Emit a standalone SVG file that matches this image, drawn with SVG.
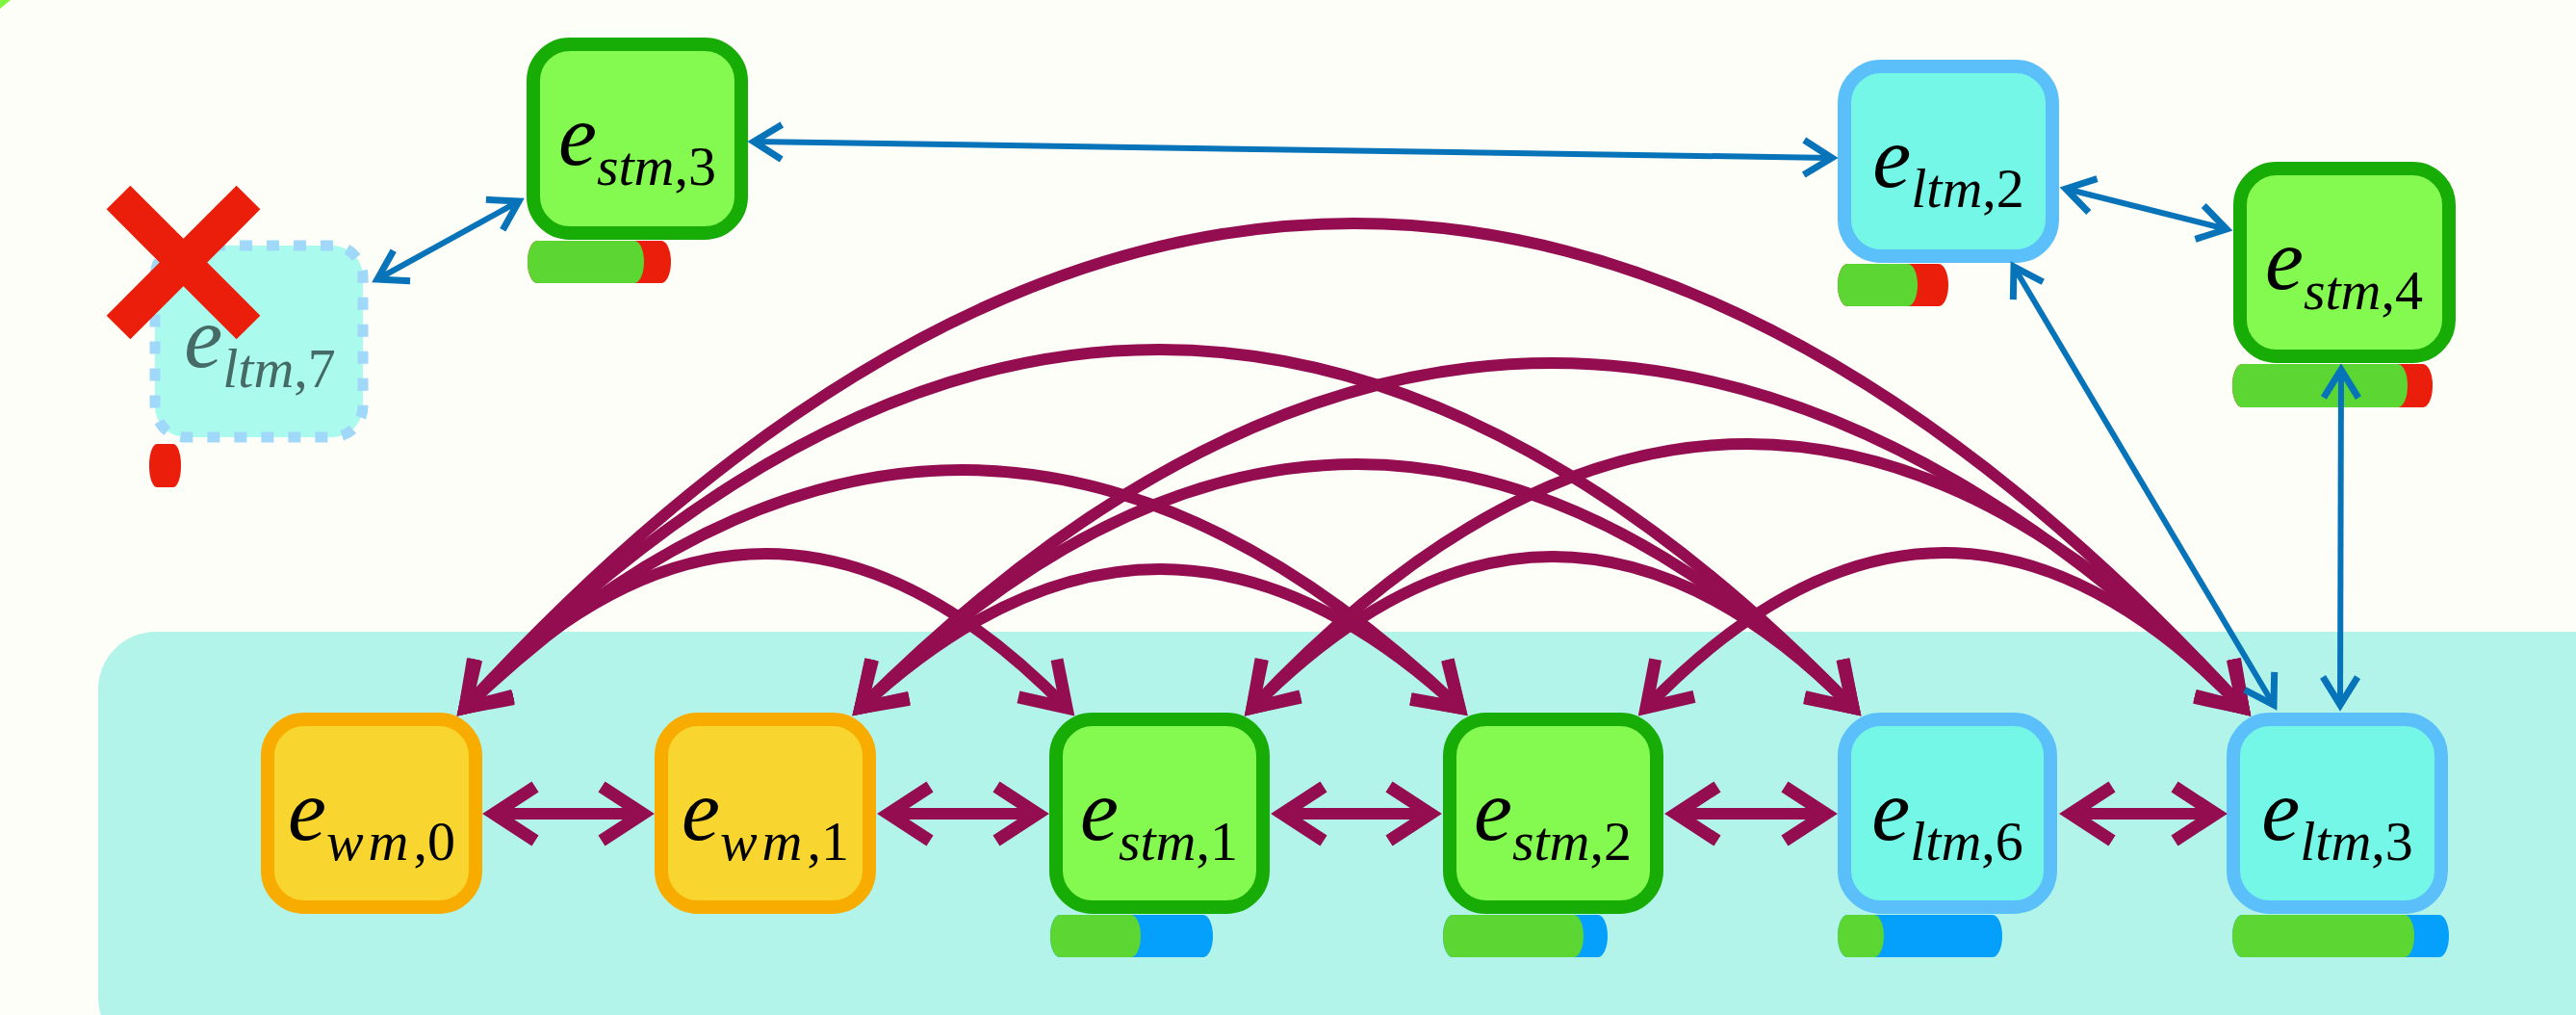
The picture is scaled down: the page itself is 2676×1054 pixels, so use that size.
<svg xmlns="http://www.w3.org/2000/svg" width="2676" height="1054" viewBox="0 0 2676 1054">
  <defs>
    <!-- open chevron heads: purple for the working row, blue for memory links -->
    <marker id="hp" markerUnits="userSpaceOnUse" viewBox="-60 -40 80 80" markerWidth="80" markerHeight="80" refX="0" refY="0" orient="auto-start-reverse" overflow="visible">
      <path d="M-43,-28 L0,0 L-43,28" fill="none" stroke="#930D50" stroke-width="13" stroke-linejoin="miter"/>
    </marker>
    <marker id="hb" markerUnits="userSpaceOnUse" viewBox="-40 -30 50 60" markerWidth="50" markerHeight="60" refX="0" refY="0" orient="auto-start-reverse" overflow="visible">
      <path d="M-29,-18 L0,0 L-29,18" fill="none" stroke="#0773B8" stroke-width="7" stroke-linejoin="miter"/>
    </marker>
    <style>
      .box { stroke-width: 14px; }
      .wm .box { fill: #F9D52F; stroke: #F9AC00; }
      .stm .box { fill: #84F94F; stroke: #18AC07; }
      .ltm .box { fill: #74F7E6; stroke: #5BC0FA; }
      .gone .box { fill: #AAFAEE; stroke: #A0D8FA; stroke-width: 11px; stroke-dasharray: 13 15; }
      .lbl { font-family: "Liberation Serif", "Times New Roman", serif; font-style: italic; fill: #000; text-anchor: middle; }
      .gone .lbl { fill: #466A66; }
      .e { font-size: 90px; }
      .sub { font-size: 58px; }
      .up { font-style: normal; }
      .wide { letter-spacing: 5px; }
      .g { fill: #5BD633; }
      .r { fill: #EA1E0A; }
      .b { fill: #04A0FC; }
      .arc { fill: none; stroke: #930D50; stroke-width: 12px; marker-start: url(#hp); marker-end: url(#hp); }
      .lnk { fill: none; stroke: #0773B8; stroke-width: 6px; marker-start: url(#hb); marker-end: url(#hb); }
    </style>
  </defs>

  <!-- page -->
  <rect x="0" y="0" width="2676" height="1054" fill="#FEFEF8"/>
  <polygon points="0,0 11,0 0,9" fill="#7FF53F"/>

  <!-- working-memory panel -->
  <rect id="panel" x="102" y="656" width="2640" height="440" rx="60" fill="#B3F4EA"/>

  <!-- nodes -->
  <g id="e_stm_3" class="stm">
    <rect class="box" x="554" y="46" width="216" height="196" rx="38"/>
    <rect class="r" x="548" y="250" width="149" height="44" rx="10" ry="22"/>
    <rect class="g" x="548" y="250" width="121" height="44" rx="10" ry="22"/>
    <text class="lbl" x="662" y="171"><tspan class="e">e</tspan><tspan class="sub" dy="21">stm</tspan><tspan class="sub up">,3</tspan></text>
  </g>

  <g id="e_ltm_7" class="gone">
    <rect class="box" x="161" y="255" width="216" height="199" rx="32"/>
    <rect class="r" x="155" y="461" width="33" height="45" rx="8" ry="22"/>
    <text class="lbl" x="270" y="381"><tspan class="e">e</tspan><tspan class="sub" dy="21">ltm</tspan><tspan class="sub up">,7</tspan></text>
    <!-- removal mark -->
    <g stroke="#EA1E0A" stroke-width="35">
      <line x1="123" y1="205" x2="258" y2="340"/>
      <line x1="258" y1="205" x2="123" y2="340"/>
    </g>
  </g>

  <g id="e_ltm_2" class="ltm">
    <rect class="box" x="1916" y="69" width="216" height="197" rx="38"/>
    <rect class="r" x="1909" y="274" width="115" height="44" rx="10" ry="22"/>
    <rect class="g" x="1909" y="274" width="83" height="44" rx="10" ry="22"/>
    <text class="lbl" x="2024" y="194"><tspan class="e">e</tspan><tspan class="sub" dy="21">ltm</tspan><tspan class="sub up">,2</tspan></text>
  </g>

  <g id="e_stm_4" class="stm">
    <rect class="box" x="2327" y="175" width="217" height="195" rx="38"/>
    <rect class="r" x="2319" y="378" width="208" height="45" rx="10" ry="22"/>
    <rect class="g" x="2319" y="378" width="182" height="45" rx="10" ry="22"/>
    <text class="lbl" x="2435" y="300"><tspan class="e">e</tspan><tspan class="sub" dy="21">stm</tspan><tspan class="sub up">,4</tspan></text>
  </g>

  <g id="e_wm_0" class="wm">
    <rect class="box" x="278" y="747" width="216" height="195" rx="38"/>
    <text class="lbl" x="386" y="872"><tspan class="e">e</tspan><tspan class="sub wide" dy="21">wm</tspan><tspan class="sub up">,0</tspan></text>
  </g>

  <g id="e_wm_1" class="wm">
    <rect class="box" x="687" y="747" width="216" height="195" rx="38"/>
    <text class="lbl" x="795" y="872"><tspan class="e">e</tspan><tspan class="sub wide" dy="21">wm</tspan><tspan class="sub up">,1</tspan></text>
  </g>

  <g id="e_stm_1" class="stm">
    <rect class="box" x="1097" y="747" width="215" height="195" rx="38"/>
    <rect class="b" x="1091" y="950" width="169" height="44" rx="10" ry="22"/>
    <rect class="g" x="1091" y="950" width="94" height="44" rx="10" ry="22"/>
    <text class="lbl" x="1204" y="872"><tspan class="e">e</tspan><tspan class="sub" dy="21">stm</tspan><tspan class="sub up">,1</tspan></text>
  </g>

  <g id="e_stm_2" class="stm">
    <rect class="box" x="1506" y="747" width="215" height="195" rx="38"/>
    <rect class="b" x="1499" y="950" width="171" height="44" rx="10" ry="22"/>
    <rect class="g" x="1499" y="950" width="146" height="44" rx="10" ry="22"/>
    <text class="lbl" x="1613" y="872"><tspan class="e">e</tspan><tspan class="sub" dy="21">stm</tspan><tspan class="sub up">,2</tspan></text>
  </g>

  <g id="e_ltm_6" class="ltm">
    <rect class="box" x="1916" y="747" width="214" height="195" rx="38"/>
    <rect class="b" x="1909" y="950" width="171" height="44" rx="10" ry="22"/>
    <rect class="g" x="1909" y="950" width="48" height="44" rx="10" ry="22"/>
    <text class="lbl" x="2023" y="872"><tspan class="e">e</tspan><tspan class="sub" dy="21">ltm</tspan><tspan class="sub up">,6</tspan></text>
  </g>

  <g id="e_ltm_3" class="ltm">
    <rect class="box" x="2320" y="747" width="216" height="195" rx="38"/>
    <rect class="b" x="2319" y="950" width="225" height="44" rx="10" ry="22"/>
    <rect class="g" x="2319" y="950" width="189" height="44" rx="10" ry="22"/>
    <text class="lbl" x="2428" y="872"><tspan class="e">e</tspan><tspan class="sub" dy="21">ltm</tspan><tspan class="sub up">,3</tspan></text>
  </g>

  <!-- connectors -->
  <g id="connectors">
    <!-- neighbours in the working row -->
    <path class="arc" d="M513,845 H668"/>
    <path class="arc" d="M923,845 H1078"/>
    <path class="arc" d="M1332,845 H1486"/>
    <path class="arc" d="M1741,845 H1897"/>
    <path class="arc" d="M2151,845 H2302"/>
    <!-- arcs between non-neighbours -->
    <path class="arc" d="M483,735 Q795.5,415 1108,735"/>
    <path class="arc" d="M483,735 Q999.5,241 1516,735"/>
    <path class="arc" d="M483,735 Q1204,-9 1925,735"/>
    <path class="arc" d="M483,735 Q1406.5,-271 2330,735"/>
    <path class="arc" d="M894,735 Q1205,447 1516,735"/>
    <path class="arc" d="M894,735 Q1409.5,229 1925,735"/>
    <path class="arc" d="M894,735 Q1612,19 2330,735"/>
    <path class="arc" d="M1301,735 Q1613,421 1925,735"/>
    <path class="arc" d="M1301,735 Q1815.5,187 2330,735"/>
    <path class="arc" d="M1710,735 Q2020,413 2330,735"/>
    <!-- memory links -->
    <path class="lnk" d="M783,147 L1903,164"/>
    <path class="lnk" d="M392,290 L539,209"/>
    <path class="lnk" d="M2146,196 L2313,238"/>
    <path class="lnk" d="M2092,277 L2362,732"/>
    <path class="lnk" d="M2432,384 L2431,732"/>
  </g>
</svg>
